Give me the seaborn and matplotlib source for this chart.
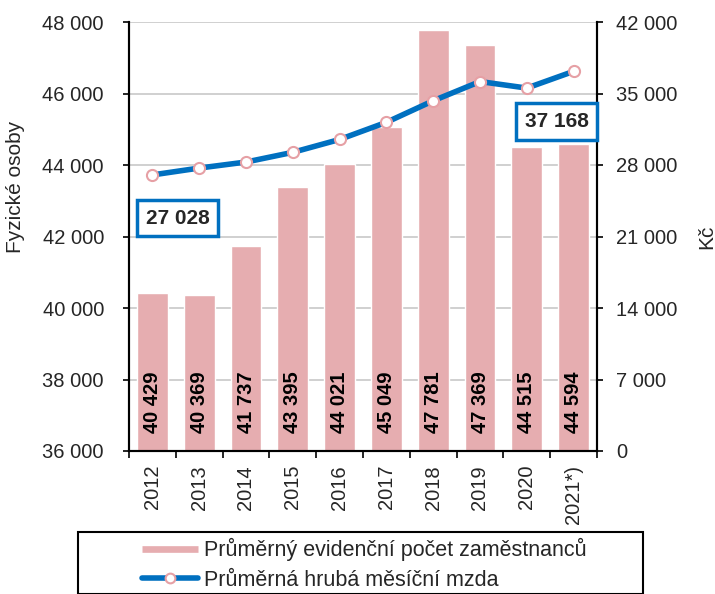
import numpy as np
import pandas as pd
import matplotlib
matplotlib.use("Agg")
import matplotlib.pyplot as plt
import seaborn as sns
from matplotlib.lines import Line2D
from matplotlib.patches import Rectangle
from matplotlib.ticker import FuncFormatter, FixedLocator

years = ["2012", "2013", "2014", "2015", "2016", "2017", "2018", "2019", "2020", "2021*)"]
employees = [40429, 40369, 41737, 43395, 44021, 45049, 47781, 47369, 44515, 44594]
wage = [27028, 27700, 28290, 29240, 30500, 32180, 34290, 36170, 35530, 37168]
left_ticks = [36000, 38000, 40000, 42000, 44000, 46000, 48000]
right_ticks = [0, 7000, 14000, 21000, 28000, 35000, 42000]
bar_label = "Průměrný evidenční počet zaměstnanců"
line_label = "Průměrná hrubá měsíční mzda"

sns.set_theme(style="white")
plt.rcParams["font.family"] = ["Liberation Sans", "DejaVu Sans"]

BAR = "#E6ADB0"
BLUE = "#0070C0"

df = pd.DataFrame({"year": years, "employees": employees, "wage": wage})
df["pos"] = np.arange(len(years))

fig = plt.figure(figsize=(7.15, 5.94), dpi=100)
ax = fig.add_axes([129/715, 1-451/594, (597-129)/715, (451-22)/594])

sns.barplot(data=df, x="year", y="employees", color=BAR, width=0.66,
            saturation=1, ax=ax, zorder=2)
ax.set_ylim(36000, 48000)
ax.set_xlim(-0.5, len(years) - 0.5)
fmt = FuncFormatter(lambda v, p: f"{v:,.0f}".replace(",", " "))
ax.yaxis.set_major_locator(FixedLocator(left_ticks))
ax.yaxis.set_major_formatter(fmt)
ax.grid(axis="y", color="#C8C8C8", lw=1.2, zorder=0)
ax.set_axisbelow(True)
ax.set_xlabel("")
ax.set_ylabel("Fyzické osoby", fontsize=15)
ax.yaxis.set_label_coords(-0.222, 0.615)
ax.tick_params(axis="y", labelsize=14.5, length=4, width=1.2, color="black",
               direction="out", left=True, pad=14)

# x ticks at category boundaries, labels at centres
ax.set_xticks(np.arange(-0.5, len(years), 1.0))
ax.set_xticklabels([])
ax.set_xticks(np.arange(len(years)), minor=True)
ax.set_xticklabels(years, minor=True, rotation=90, fontsize=14.5)
ax.tick_params(axis="x", which="major", length=5, width=1.2, color="black", direction="out", bottom=True)
ax.tick_params(axis="x", which="minor", length=0, pad=10)

for s in ["left", "right", "bottom"]:
    ax.spines[s].set_color("black")
    ax.spines[s].set_linewidth(1.5)
ax.spines["top"].set_visible(False)

for i, v in enumerate(employees):
    ax.text(i, 37370, f"{v:,}".replace(",", " "), rotation=90, ha="center", va="center",
            fontsize=14.5, fontweight="bold", color="black", zorder=5)

ax2 = ax.twinx()
sns.lineplot(data=df, x="pos", y="wage", ax=ax2, color=BLUE, lw=4,
             marker="o", markersize=8, markerfacecolor="white",
             markeredgecolor="#E6A0A5", markeredgewidth=1.5, zorder=4)
ax2.set_ylim(0, 42000)
ax2.set_xlim(-0.5, len(years) - 0.5)
ax2.yaxis.set_major_locator(FixedLocator(right_ticks))
ax2.yaxis.set_major_formatter(fmt)
ax2.set_ylabel("Kč", fontsize=15, labelpad=14)
ax2.yaxis.set_label_position("right")
ax2.tick_params(axis="y", labelsize=14.5, length=4, width=1.2, color="black",
                direction="out", right=True, pad=10)
for s in ["left", "right", "bottom"]:
    ax2.spines[s].set_color("black")
    ax2.spines[s].set_linewidth(1.5)
ax2.spines["top"].set_visible(False)
ax2.set_xlabel("")

bbox = dict(boxstyle="square,pad=0.42", fc="white", ec=BLUE, lw=2.5)
ax2.text(0.54, 22810, f"{wage[0]:,}".replace(",", " "), ha="center", va="center",
         fontsize=15, fontweight="bold", bbox=bbox, zorder=6)
ax2.text(8.64, 32260, f"{wage[-1]:,}".replace(",", " "), ha="center", va="center",
         fontsize=15, fontweight="bold", bbox=bbox, zorder=6)

# legend
handles = [Line2D([0], [0], color=BAR, lw=4.8, solid_capstyle="butt"),
           Line2D([0], [0], color=BLUE, lw=4, marker="o", markersize=7,
                  markerfacecolor="white", markeredgecolor="#E6A0A5", markeredgewidth=1.5)]
fig.legend(handles, [bar_label, line_label], loc="upper left",
           bbox_to_anchor=(142/715, 1-538/594), frameon=False, fontsize=15.5,
           handlelength=2.6, handletextpad=0.3, labelspacing=0.4,
           borderpad=0, borderaxespad=0)
fig.patches.append(Rectangle((78/715, 0), (643-78)/715, (594-538)/594 + 0.01,
                             transform=fig.transFigure, fill=False, ec="black",
                             lw=1.5, clip_on=True))

fig.savefig("out.png", dpi=100)
